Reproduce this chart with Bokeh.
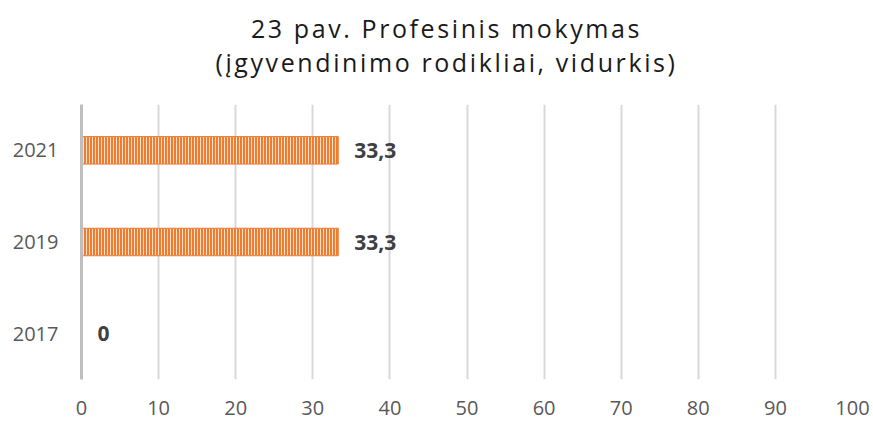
from bokeh.plotting import figure
from bokeh.models import ColumnDataSource, FactorRange, Range1d, FixedTicker, LabelSet, Div
from bokeh.layouts import column
from bokeh.core.properties import value
from bokeh.embed import file_html
from bokeh.resources import INLINE

years = ["2017", "2019", "2021"]
values = [0, 33.3, 33.3]
labels = [f"{v:g}".replace(".", ",") for v in values]
x_ticks = [0, 10, 20, 30, 40, 50, 60, 70, 80, 90, 100]
title_line1 = "23 pav. Profesinis mokymas"
title_line2 = "(įgyvendinimo rodikliai, vidurkis)"

title = Div(
    text=f"<div style='font-family:\"Open Sans\";font-size:25px;letter-spacing:2.6px;"
         f"line-height:34px;text-align:center;color:#1a1a1a;padding-top:11px;"
         f"padding-left:20px;box-sizing:border-box;width:873px'>"
         f"{title_line1}<br>{title_line2}</div>",
    width=873, height=104, margin=(0, 0, 0, 0))

src = ColumnDataSource(dict(y=years, v=values, lab=labels))

p = figure(width=873, height=317, y_range=FactorRange(*years), x_range=Range1d(0, 100),
           output_backend="svg", toolbar_location=None, title=None, margin=(0, 0, 0, 0),
           min_border_left=81, min_border_right=21, min_border_bottom=42, min_border_top=0)

p.hbar(y="y", right="v", left=0, height=0.3, source=src, fill_color="#ED7D31",
       line_color="#ED7D31", line_width=1, hatch_pattern="|", hatch_color="white",
       hatch_scale=3, hatch_weight=1, hatch_alpha=0.75)

p.add_layout(LabelSet(x="v", y="y", text="lab", source=src, x_offset=16, y_offset=0,
                      text_baseline="middle", text_font=value("Open Sans"),
                      text_font_size="21px", text_font_style="bold", text_color="#404040"))

p.xaxis.ticker = FixedTicker(ticks=x_ticks)
p.xaxis.axis_line_color = None
p.xaxis.major_tick_line_color = None
p.xaxis.minor_tick_line_color = None
p.xaxis.major_label_text_font = "Open Sans"
p.xaxis.major_label_text_font_size = "20px"
p.xaxis.major_label_text_color = "#595959"
p.xaxis.major_label_standoff = 15

p.yaxis.axis_line_color = "#bfbfbf"
p.yaxis.axis_line_width = 3
p.yaxis.major_tick_line_color = None
p.yaxis.minor_tick_line_color = None
p.yaxis.major_label_text_font = "Open Sans"
p.yaxis.major_label_text_font_size = "20px"
p.yaxis.major_label_text_color = "#595959"
p.yaxis.major_label_standoff = 17

p.xgrid.ticker = FixedTicker(ticks=x_ticks[1:])
p.xgrid.grid_line_color = "#d9d9d9"
p.xgrid.grid_line_width = 2
p.ygrid.grid_line_color = None
p.outline_line_color = None

layout = column(title, p, spacing=0)
open("out.html", "w").write(file_html(layout, INLINE))
